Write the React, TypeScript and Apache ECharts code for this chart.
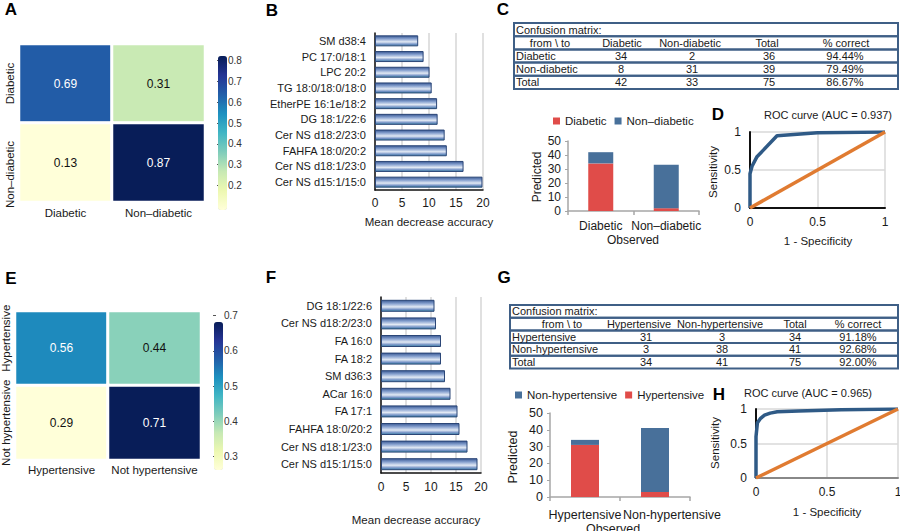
import React, { useEffect, useRef } from 'react';
import * as echarts from 'echarts';

const FONT = 'Liberation Sans, Arial, Helvetica, sans-serif';
const YLGNBU = ['#ffffd9', '#edf8b1', '#c7e9b4', '#7fcdbb', '#41b6c4', '#1d91c0', '#225ea8', '#253494', '#081d58'];

// ---------- Panel A ----------
const heatACols = ['Diabetic', 'Non–diabetic'];
const heatARows = ['Diabetic', 'Non–diabetic'];
const heatAValues = [[0.69, 0.31], [0.13, 0.87]];
const heatARange = [0.13, 0.87];
const heatATicks = [0.2, 0.3, 0.4, 0.5, 0.6, 0.7, 0.8];

// ---------- Panel B ----------
const impBNames = ['SM d38:4', 'PC 17:0/18:1', 'LPC 20:2', 'TG 18:0/18:0/18:0', 'EtherPE 16:1e/18:2', 'DG 18:1/22:6', 'Cer NS d18:2/23:0', 'FAHFA 18:0/20:2', 'Cer NS d18:1/23:0', 'Cer NS d15:1/15:0'];
const impBValues = [8.0, 9.0, 10.1, 10.5, 11.5, 11.6, 12.9, 13.3, 16.4, 19.9];

// ---------- Panel C ----------
const tableCHeader = ['from \\ to', 'Diabetic', 'Non-diabetic', 'Total', '% correct'];
const tableCRows = [
  ['Diabetic', '34', '2', '36', '94.44%'],
  ['Non-diabetic', '8', '31', '39', '79.49%'],
  ['Total', '42', '33', '75', '86.67%'],
];
const barCCategories = ['Diabetic', 'Non–diabetic'];
const barCPredDiabetic = [34, 2];
const barCPredNonDiabetic = [8, 31];

// ---------- Panel D ----------
const rocD = [[0, 0], [0, 0.45], [0.015, 0.55], [0.05, 0.67], [0.2, 0.95], [0.5, 0.99], [1, 1]];
const aucD = '0.937';

// ---------- Panel E ----------
const heatECols = ['Hypertensive', 'Not hypertensive'];
const heatERows = ['Hypertensive', 'Not hypertensive'];
const heatEValues = [[0.56, 0.44], [0.29, 0.71]];
const heatERange = [0.29, 0.71];
const heatETicks = [0.3, 0.4, 0.5, 0.6, 0.7];

// ---------- Panel F ----------
const impFNames = ['DG 18:1/22:6', 'Cer NS d18:2/23:0', 'FA 16:0', 'FA 18:2', 'SM d36:3', 'ACar 16:0', 'FA 17:1', 'FAHFA 18:0/20:2', 'Cer NS d18:1/23:0', 'Cer NS d15:1/15:0'];
const impFValues = [10.7, 11.0, 12.0, 12.0, 12.8, 13.9, 15.3, 15.7, 17.3, 19.3];

// ---------- Panel G ----------
const tableGHeader = ['from \\ to', 'Hypertensive', 'Non-hypertensive', 'Total', '% correct'];
const tableGRows = [
  ['Hypertensive', '31', '3', '34', '91.18%'],
  ['Non-hypertensive', '3', '38', '41', '92.68%'],
  ['Total', '34', '41', '75', '92.00%'],
];
const barGCategories = ['Hypertensive', 'Non-hypertensive'];
const barGPredHypertensive = [31, 3];
const barGPredNonHypertensive = [3, 38];

// ---------- Panel H ----------
const rocH = [[0, 0], [0, 0.6], [0.01, 0.8], [0.03, 0.86], [0.06, 0.91], [0.1, 0.94], [0.15, 0.96], [0.3, 0.97], [0.6, 0.99], [1, 1]];
const aucH = '0.965';

const diagonal = [[0, 0], [1, 1]];

const RED = '#e04c49';
const BLUE = '#48709a';
const ROC_BLUE = '#2f5a86';
const ROC_ORANGE = '#e07b31';
const TXT = '#1a1a1a';

function heatData(values: number[][]) {
  const out: any[] = [];
  values.forEach((row, r) => {
    row.forEach((v, c) => {
      out.push({ value: [c, r, v], label: { color: v > 0.5 ? '#ffffff' : '#111111' } });
    });
  });
  return out;
}

function text(x: number, y: number, t: string, opts: any = {}) {
  return {
    type: 'text',
    x,
    y,
    rotation: opts.rotation || 0,
    silent: true,
    style: {
      text: t,
      fill: opts.fill || TXT,
      fontSize: opts.fontSize || 11,
      fontWeight: opts.fontWeight || 'normal',
      fontFamily: FONT,
      align: opts.align || 'center',
      verticalAlign: 'middle',
    },
  };
}

function table(x0: number, y0: number, w: number, rowH: number, header: string[], rows: string[][], headCols: number[], valCols: number[]) {
  const els: any[] = [];
  for (let i = 0; i < 5; i++) {
    els.push({
      type: 'rect',
      silent: true,
      shape: { x: x0, y: y0 + i * rowH, width: w, height: rowH },
      style: { fill: 'none', stroke: '#3f5f86', lineWidth: 2 },
    });
  }
  els.push(text(x0 + 2, y0 + rowH / 2, 'Confusion matrix:', { align: 'left' }));
  header.forEach((h, j) => els.push(text(headCols[j], y0 + rowH * 1.5, h)));
  rows.forEach((row, i) => {
    row.forEach((cell, j) => {
      const yy = y0 + rowH * (2.5 + i);
      if (j === 0) els.push(text(x0 + 2, yy, cell, { align: 'left' }));
      else els.push(text(valCols[j], yy, cell));
    });
  });
  return els;
}

function barGradient() {
  return new echarts.graphic.LinearGradient(0, 0, 0, 1, [
    { offset: 0, color: '#3a5a95' },
    { offset: 0.3, color: '#87a1cf' },
    { offset: 0.6, color: '#e2e9f4' },
    { offset: 0.85, color: '#6f8ec3' },
    { offset: 1, color: '#3e8ea3' },
  ]);
}

function heatAxes(gi: number, cols: any[], rows: any[], xMargin: number) {
  return {
    x: {
      type: 'category', gridIndex: gi, data: cols,
      axisLine: { show: false }, axisTick: { show: false }, splitLine: { show: false },
      axisLabel: { interval: 0, hideOverlap: false, fontSize: 11.5, color: TXT, margin: xMargin, fontFamily: FONT },
    },
    y: {
      type: 'category', gridIndex: gi, data: rows, inverse: true,
      axisLine: { show: false }, axisTick: { show: false }, splitLine: { show: false },
      axisLabel: { interval: 0, hideOverlap: false, fontSize: 11.5, color: TXT, margin: 3, rotate: 90, fontFamily: FONT },
    },
  };
}

function cbarAxes(gi: number, range: number[], ticks: number[]) {
  return {
    x: { type: 'value', gridIndex: gi, show: false, min: 0, max: 1 },
    y: {
      type: 'value', gridIndex: gi, min: range[0], max: range[1], position: 'right',
      axisLine: { show: false }, splitLine: { show: false },
      axisTick: { show: true, length: 3, customValues: ticks, lineStyle: { color: '#555' } },
      axisLabel: { customValues: ticks, formatter: (v: number) => v.toFixed(1), fontSize: 10, color: '#333', margin: 2, fontFamily: FONT },
    },
  };
}

function impAxes(gi: number, names: string[], labelMargin: number) {
  return {
    x: {
      type: 'value', gridIndex: gi, min: 0, max: 20, interval: 5,
      axisLine: { show: true, lineStyle: { color: '#111', width: 1.5 } },
      axisTick: { show: false },
      splitLine: { show: true, lineStyle: { color: '#d6d6d6', width: 1.5 } },
      axisLabel: { fontSize: 12, color: TXT, margin: labelMargin, fontFamily: FONT },
    },
    y: {
      type: 'category', gridIndex: gi, data: names, inverse: true,
      axisLine: { show: true, lineStyle: { color: '#111', width: 1.5 } },
      axisTick: { show: false },
      axisLabel: { interval: 0, fontSize: 11, color: TXT, margin: 9, fontFamily: FONT },
    },
  };
}

function stackAxes(gi: number, cats: any[], xMargin: number, fs: number) {
  return {
    x: {
      type: 'category', gridIndex: gi, data: cats,
      axisLine: { show: true, lineStyle: { color: '#a6a6a6', width: 1.5 } },
      axisTick: { show: true, length: 4, alignWithLabel: false, lineStyle: { color: '#a6a6a6', width: 1.5 } },
      axisLabel: { fontSize: fs, color: TXT, margin: xMargin, interval: 0, hideOverlap: false, fontFamily: FONT },
    },
    y: {
      type: 'value', gridIndex: gi, min: 0, max: 50, interval: 10,
      axisLine: { show: true, lineStyle: { color: '#a6a6a6', width: 1.5 } },
      axisTick: { show: true, length: 3, lineStyle: { color: '#a6a6a6' } },
      splitLine: { show: false },
      axisLabel: { fontSize: fs, color: TXT, margin: 7, fontFamily: FONT },
    },
  };
}

function rocAxes(gi: number, bottomColor: string) {
  const fmt = (v: number) => String(v);
  return {
    x: {
      type: 'value', gridIndex: gi, min: 0, max: 1, interval: 0.5,
      axisLine: { show: true, onZero: false, lineStyle: { color: bottomColor, width: 2 } },
      axisTick: { show: false },
      splitLine: { show: true, lineStyle: { color: '#d9d9d9', width: 1.5 } },
      axisLabel: { formatter: fmt, fontSize: 12, color: TXT, margin: 8, fontFamily: FONT },
    },
    y: {
      type: 'value', gridIndex: gi, min: 0, max: 1, interval: 0.5,
      axisLine: { show: true, onZero: false, lineStyle: { color: '#111', width: 2 } },
      axisTick: { show: false },
      splitLine: { show: true, lineStyle: { color: '#d9d9d9', width: 1.5 } },
      axisLabel: { formatter: fmt, fontSize: 12, color: TXT, margin: 9, fontFamily: FONT },
    },
  };
}

function buildOption() {
  const grids = [
    { left: 19, top: 44, width: 186, height: 158 },   // 0 A heat
    { left: 217, top: 46, width: 9, height: 154 },    // 1 A cbar
    { left: 375, top: 33, width: 108, height: 157 },  // 2 B
    { left: 568, top: 141, width: 131, height: 70 },  // 3 C bars
    { left: 750, top: 132, width: 135, height: 76 },  // 4 D roc
    { left: 15, top: 311, width: 186, height: 149 },  // 5 E heat
    { left: 213, top: 312, width: 9, height: 148 },   // 6 E cbar
    { left: 381, top: 297, width: 100, height: 176 }, // 7 F
    { left: 550, top: 413, width: 140, height: 84 },  // 8 G bars
    { left: 756, top: 409, width: 142, height: 69 },  // 9 H roc
  ].map((g) => ({ ...g, containLabel: false, outerBoundsMode: 'none' }));

  const gCats = barGCategories.map((c, i) => (i === 1 ? { value: c, textStyle: { padding: [0, 0, 0, 34] } } : c));
  const aRows = heatARows.map((c, i) => (i === 1 ? { value: c, textStyle: { padding: [0, 24, 0, 0] } } : c));
  const eRows = heatERows.map((c, i) => (i === 0 ? { value: c, textStyle: { padding: [0, 0, 0, 20] } } : c));

  const axes = [
    heatAxes(0, heatACols, aRows, 5),
    cbarAxes(1, heatARange, heatATicks),
    impAxes(2, impBNames, 7),
    stackAxes(3, barCCategories, 9, 12),
    rocAxes(4, '#111'),
    heatAxes(5, heatECols, eRows, 4),
    cbarAxes(6, heatERange, heatETicks),
    impAxes(7, impFNames, 8),
    stackAxes(8, gCats, 11, 12.5),
    rocAxes(9, '#888'),
  ];

  const heatLabel = { show: true, fontSize: 12, fontFamily: FONT, formatter: (p: any) => p.value[2].toFixed(2) };

  const series: any[] = [
    { type: 'heatmap', name: 'heatA', xAxisIndex: 0, yAxisIndex: 0, data: heatData(heatAValues), label: heatLabel, itemStyle: { borderColor: '#ffffff', borderWidth: 3 }, emphasis: { disabled: true } },
    { type: 'scatter', xAxisIndex: 1, yAxisIndex: 1, data: [] },
    { type: 'bar', name: 'impB', xAxisIndex: 2, yAxisIndex: 2, data: impBValues, barWidth: 11, itemStyle: { color: barGradient(), borderColor: '#2b4677', borderWidth: 1 } },
    { type: 'bar', name: 'Diabetic', xAxisIndex: 3, yAxisIndex: 3, stack: 'c', data: barCPredDiabetic, barWidth: 25, itemStyle: { color: RED } },
    { type: 'bar', name: 'Non–diabetic', xAxisIndex: 3, yAxisIndex: 3, stack: 'c', data: barCPredNonDiabetic, barWidth: 25, itemStyle: { color: BLUE } },
    { type: 'line', name: 'rocD', xAxisIndex: 4, yAxisIndex: 4, data: rocD, symbol: 'none', lineStyle: { color: ROC_BLUE, width: 3.5 }, itemStyle: { color: ROC_BLUE } },
    { type: 'line', name: 'diagD', xAxisIndex: 4, yAxisIndex: 4, data: diagonal, symbol: 'none', lineStyle: { color: ROC_ORANGE, width: 3.5 }, itemStyle: { color: ROC_ORANGE } },
    { type: 'heatmap', name: 'heatE', xAxisIndex: 5, yAxisIndex: 5, data: heatData(heatEValues), label: heatLabel, itemStyle: { borderColor: '#ffffff', borderWidth: 3 }, emphasis: { disabled: true } },
    { type: 'scatter', xAxisIndex: 6, yAxisIndex: 6, data: [] },
    { type: 'bar', name: 'impF', xAxisIndex: 7, yAxisIndex: 7, data: impFValues, barWidth: 12, itemStyle: { color: barGradient(), borderColor: '#2b4677', borderWidth: 1 } },
    { type: 'bar', name: 'Hypertensive', xAxisIndex: 8, yAxisIndex: 8, stack: 'g', data: barGPredHypertensive, barWidth: 28, itemStyle: { color: RED } },
    { type: 'bar', name: 'Non-hypertensive', xAxisIndex: 8, yAxisIndex: 8, stack: 'g', data: barGPredNonHypertensive, barWidth: 28, itemStyle: { color: BLUE } },
    { type: 'line', name: 'rocH', xAxisIndex: 9, yAxisIndex: 9, data: rocH, symbol: 'none', lineStyle: { color: ROC_BLUE, width: 3.5 }, itemStyle: { color: ROC_BLUE } },
    { type: 'line', name: 'diagH', xAxisIndex: 9, yAxisIndex: 9, data: diagonal, symbol: 'none', lineStyle: { color: ROC_ORANGE, width: 3.5 }, itemStyle: { color: ROC_ORANGE } },
  ];

  const letter = (x: number, y: number, t: string) => text(x, y, t, { fontSize: 17, fontWeight: 'bold', fill: '#000' });

  const graphics: any[] = [
    letter(11, 9, 'A'), letter(272, 10, 'B'), letter(503, 9, 'C'), letter(718, 114, 'D'),
    letter(11, 278, 'E'), letter(271, 277, 'F'), letter(504, 277, 'G'), letter(719, 394, 'H'),
    text(429, 222, 'Mean decrease accuracy', { fontSize: 11.5 }),
    text(416, 520, 'Mean decrease accuracy', { fontSize: 11.5 }),
    text(537, 177, 'Predicted', { fontSize: 12, rotation: Math.PI / 2 }),
    text(633, 240, 'Observed', { fontSize: 12 }),
    text(513, 457, 'Predicted', { fontSize: 12.5, rotation: Math.PI / 2 }),
    text(613, 529, 'Observed', { fontSize: 12.5 }),
    text(828, 115, 'ROC curve (AUC = ' + aucD + ')', { fontSize: 11 }),
    text(808, 393, 'ROC curve (AUC = ' + aucH + ')', { fontSize: 11 }),
    text(818, 241, '1 - Specificity', { fontSize: 11.5 }),
    text(827, 512, '1 - Specificity', { fontSize: 11.5 }),
    text(713, 172, 'Sensitivity', { fontSize: 11.5, rotation: Math.PI / 2 }),
    text(715, 443, 'Sensitivity', { fontSize: 11.5, rotation: Math.PI / 2 }),
    ...table(514, 23, 384, 13.2, tableCHeader, tableCRows, [550, 622, 690, 767, 846], [0, 621, 692, 769, 845]),
    ...table(510, 305, 388, 12.7, tableGHeader, tableGRows, [562, 639, 720, 795, 858], [0, 646, 722, 795, 858]),
  ];

  return {
    animation: false,
    backgroundColor: '#ffffff',
    textStyle: { fontFamily: FONT },
    grid: grids,
    xAxis: axes.map((a) => a.x),
    yAxis: axes.map((a) => a.y),
    visualMap: [
      { type: 'continuous', seriesIndex: 0, min: heatARange[0], max: heatARange[1], inRange: { color: YLGNBU }, left: 203, top: 41, itemWidth: 9, itemHeight: 154, calculable: false, hoverLink: false, show: true },
      { type: 'continuous', seriesIndex: 7, min: heatERange[0], max: heatERange[1], inRange: { color: YLGNBU }, left: 199, top: 307, itemWidth: 9, itemHeight: 148, calculable: false, hoverLink: false, show: true },
    ],
    legend: [
      { data: ['Diabetic', 'Non–diabetic'], left: 553, top: 115, icon: 'rect', itemWidth: 7, itemHeight: 7, itemGap: 8, padding: 0, selectedMode: false, textStyle: { fontSize: 11.5, color: TXT, fontFamily: FONT } },
      { data: ['Non-hypertensive', 'Hypertensive'], left: 515, top: 389, icon: 'rect', itemWidth: 7, itemHeight: 7, itemGap: 8, padding: 0, selectedMode: false, textStyle: { fontSize: 11.5, color: TXT, fontFamily: FONT } },
    ],
    series,
    graphic: graphics,
  };
}

export default function App() {
  const ref = useRef<HTMLDivElement>(null);
  useEffect(() => {
    if (!ref.current) return;
    const chart = echarts.init(ref.current, undefined, { renderer: 'svg' });
    chart.setOption(buildOption() as any);
    return () => chart.dispose();
  }, []);
  return <div ref={ref} style={{ position: 'fixed', left: 0, top: 0, width: 900, height: 531, background: '#fff' }} />;
}
